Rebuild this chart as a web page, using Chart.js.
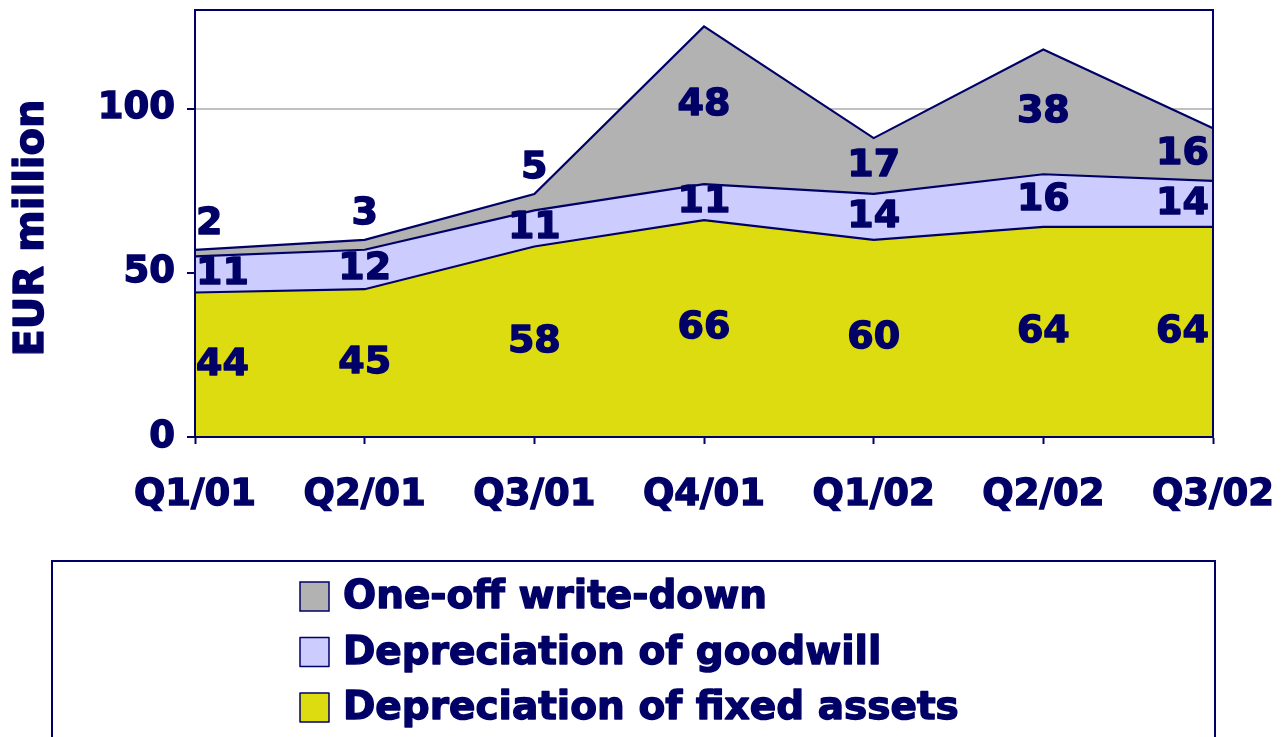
<!DOCTYPE html>
<html>
<head>
<meta charset="utf-8">
<script src="https://cdn.jsdelivr.net/npm/chart.js@4/dist/chart.umd.min.js"></script>
<style>
  body { margin: 0; background: #fff; }
  canvas { display: block; }
</style>
</head>
<body>
<canvas id="depChart" width="1281" height="737"></canvas>
<script>
// data (EUR million)
const quarters = ["Q1/01", "Q2/01", "Q3/01", "Q4/01", "Q1/02", "Q2/02", "Q3/02"];
const fixedAssets = [44, 45, 58, 66, 60, 64, 64];
const goodwill = [11, 12, 11, 11, 14, 16, 14];
const writeDown = [2, 3, 5, 48, 17, 38, 16];
const yTicks = [0, 50, 100];

const NAVY = "#000066";
const FONT = "'DejaVu Sans', sans-serif";

// heavy text: fill + thin stroke so it looks like the original black face
function heavyText(ctx, txt, x, y, w) {
    ctx.lineWidth = w || 1.4;
    ctx.strokeStyle = NAVY;
    ctx.lineJoin = "round";
    ctx.strokeText(txt, x, y);
    ctx.fillText(txt, x, y);
}

// value labels in the middle of each band (small bands get the label above)
const bandLabels = {
    id: "bandLabels",
    afterDatasetsDraw(chart) {
        const { ctx, chartArea, scales } = chart;
        const y = scales.y, x = scales.x;
        const sets = chart.data.datasets;
        ctx.save();
        ctx.font = "bold 38px " + FONT;
        ctx.fillStyle = NAVY;
        ctx.textBaseline = "middle";
        quarters.forEach((q, j) => {
            let base = 0;
            sets.forEach(ds => {
                const v = ds.data[j];
                const top = base + v;
                let py = v < 6 ? y.getPixelForValue(top) - 26 : y.getPixelForValue((base + top) / 2);
                let px = x.getPixelForValue(j);
                if (j === 0) { ctx.textAlign = "left"; px = chartArea.left + 1; }
                else if (j === quarters.length - 1) { ctx.textAlign = "right"; px = chartArea.right - 4; }
                else ctx.textAlign = "center";
                heavyText(ctx, String(v), px, py);
                base = top;
            });
        });
        ctx.restore();
    }
};

// frame around plot, axis title and the boxed legend
const decorations = {
    id: "decorations",
    afterDraw(chart) {
        const { ctx, chartArea } = chart;
        ctx.save();
        ctx.strokeStyle = NAVY;
        ctx.lineWidth = 2;
        ctx.strokeRect(chartArea.left, chartArea.top, chartArea.right - chartArea.left, chartArea.bottom - chartArea.top);

        // y title
        ctx.translate(33, 228);
        ctx.rotate(-Math.PI / 2);
        ctx.font = "bold 40px " + FONT;
        ctx.fillStyle = NAVY;
        ctx.textAlign = "center";
        ctx.textBaseline = "middle";
        heavyText(ctx, "EUR million", 0, 0);
        ctx.restore();

        // legend box
        ctx.save();
        ctx.strokeStyle = NAVY;
        ctx.lineWidth = 2;
        ctx.strokeRect(52, 561, 1163, 200);
        const items = chart.data.datasets.slice().reverse();
        ctx.font = "bold 39px " + FONT;
        ctx.textBaseline = "middle";
        ctx.textAlign = "left";
        items.forEach((ds, i) => {
            const cy = 597 + i * 55.5;
            ctx.fillStyle = ds.backgroundColor;
            ctx.fillRect(300, cy - 15, 29, 29);
            ctx.strokeStyle = NAVY;
            ctx.lineWidth = 1.5;
            ctx.strokeRect(300, cy - 15, 29, 29);
            ctx.fillStyle = NAVY;
            heavyText(ctx, ds.label, 343, cy + 1);
        });
        ctx.restore();
    }
};

const tickFont = { family: FONT, size: 37, weight: "bold" };

const chart = new Chart(document.getElementById("depChart"), {
    type: "line",
    data: {
        labels: quarters,
        datasets: [
            { label: "Depreciation of fixed assets", data: fixedAssets, backgroundColor: "#dcdc10", fill: "origin" },
            { label: "Depreciation of goodwill", data: goodwill, backgroundColor: "#ccccff", fill: "-1" },
            { label: "One-off write-down", data: writeDown, backgroundColor: "#b2b2b2", fill: "-1" }
        ].map(ds => Object.assign(ds, {
            borderColor: NAVY,
            borderWidth: 2.2,
            pointRadius: 0,
            tension: 0
        }))
    },
    options: {
        responsive: false,
        devicePixelRatio: 1,
        animation: false,
        layout: { padding: { top: 10, right: 68, left: 0, bottom: 0 } },
        plugins: { legend: { display: false }, tooltip: { enabled: false } },
        scales: {
            x: {
                offset: false,
                afterFit(scale) {
                    scale.height = 300;
                    scale.paddingLeft = 0;
                    scale.paddingRight = 0;
                },
                grid: { drawOnChartArea: false, tickLength: 7, tickColor: NAVY, tickWidth: 2 },
                border: { color: NAVY, width: 2 },
                ticks: {
                    color: NAVY, font: tickFont, padding: 29, maxRotation: 0,
                    textStrokeColor: NAVY, textStrokeWidth: 1.4
                }
            },
            y: {
                stacked: true,
                min: 0,
                max: 130,
                afterFit(scale) {
                    scale.width = 195;
                    scale.paddingTop = 0;
                    scale.paddingBottom = 0;
                },
                afterBuildTicks(scale) { scale.ticks = yTicks.map(v => ({ value: v })); },
                grid: {
                    color: ctx => ctx.tick && ctx.tick.value === 100 ? "#c0c0c0" : "rgba(0,0,0,0)",
                    lineWidth: 2,
                    tickLength: 8,
                    tickColor: NAVY,
                    tickWidth: 2
                },
                border: { color: NAVY, width: 2 },
                ticks: {
                    color: NAVY, font: tickFont, padding: 12,
                    textStrokeColor: NAVY, textStrokeWidth: 1.4
                }
            }
        }
    },
    plugins: [bandLabels, decorations]
});
</script>
</body>
</html>
